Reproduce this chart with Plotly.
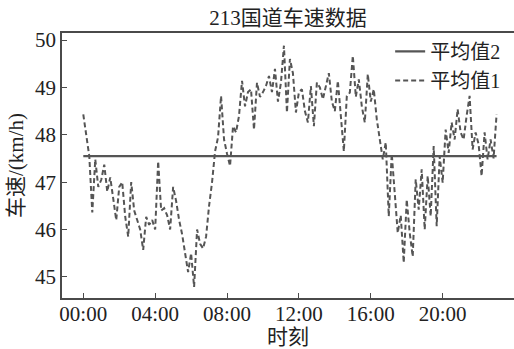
import plotly.graph_objects as go

# Time of day in hours, sampled every 10 minutes from 00:00 to 23:00
hours = [i / 6 for i in range(139)]

# 平均值1: average vehicle speed (km/h) at each sample time
speed_avg1 = [
    48.43, 48.00, 47.55, 46.36, 47.48, 46.90,   # 00:00
    47.05, 47.37, 46.80, 47.10, 46.60, 46.20,   # 01:00
    46.90, 47.00, 46.27, 45.85, 47.00, 46.40,   # 02:00
    46.20, 46.00, 45.57, 46.27, 46.10, 46.20,   # 03:00
    46.00, 47.44, 46.40, 46.45, 46.30, 46.00,   # 04:00
    46.90, 46.60, 46.20, 45.90, 45.50, 45.10,   # 05:00
    45.50, 44.79, 46.00, 45.70, 45.60, 45.85,   # 06:00
    46.50, 47.00, 47.65, 47.95, 48.82, 47.90,   # 07:00
    47.60, 47.34, 48.18, 48.05, 48.40, 49.14,   # 08:00
    48.60, 48.90, 48.96, 48.11, 49.10, 48.80,   # 09:00
    48.90, 49.03, 49.24, 48.90, 49.39, 48.70,   # 10:00
    49.10, 49.88, 48.47, 49.60, 49.30, 48.47,   # 11:00
    48.90, 48.96, 48.50, 48.26, 49.03, 48.18,   # 12:00
    49.10, 49.00, 48.75, 49.00, 49.30, 48.70,   # 13:00
    48.50, 49.14, 48.33, 47.65, 48.82, 48.89,   # 14:00
    49.67, 48.80, 49.17, 48.60, 48.26, 49.28,   # 15:00
    48.70, 48.96, 48.33, 47.90, 47.48, 47.84,   # 16:00
    46.28, 47.60, 46.70, 45.93, 46.30, 45.30,   # 17:00
    46.63, 45.93, 45.43, 47.06, 46.42, 47.27,   # 18:00
    46.00, 47.13, 46.28, 47.76, 46.07, 47.55,   # 19:00
    46.99, 48.11, 47.62, 48.26, 47.90, 48.54,   # 20:00
    48.05, 47.90, 48.40, 48.82, 47.69, 48.05,   # 21:00
    47.80, 47.13, 48.05, 47.48, 47.90, 47.50,   # 22:00
    48.43,                                      # 23:00
]

# 平均值2: overall mean speed across the day
speed_avg2 = 47.55
avg2_span = [0, 23]

tick_hours = [0, 4, 8, 12, 16, 20]
tick_labels = ["00:00", "04:00", "08:00", "12:00", "16:00", "20:00"]
speed_ticks = [45, 46, 47, 48, 49, 50]

FONT = "Liberation Serif, 'Noto Sans CJK SC', serif"
SIZE = 21
INK = "#222222"
AXIS = "#4a4a4a"

fig = go.Figure()

fig.add_trace(go.Scatter(
    x=hours, y=speed_avg1, mode="lines", name="平均值1",
    line=dict(color="#555555", width=2, dash="5px,3px"),
    legendrank=2,
))
fig.add_trace(go.Scatter(
    x=avg2_span, y=[speed_avg2] * len(avg2_span), mode="lines", name="平均值2",
    line=dict(color="#555555", width=2.2),
    legendrank=1,
))

fig.update_layout(
    width=514, height=349,
    margin=dict(l=62, r=0, t=33, b=51),
    paper_bgcolor="white", plot_bgcolor="white",
    font=dict(family=FONT, size=SIZE, color=INK),
    title=dict(text="213国道车速数据", x=288 / 514, xanchor="center",
               y=1 - 18 / 349, yanchor="middle", yref="container",
               font=dict(family=FONT, size=SIZE, color=INK)),
    showlegend=True,
    legend=dict(x=0.726, y=1.004, xanchor="left", yanchor="top",
                bgcolor="rgba(0,0,0,0)", borderwidth=0,
                font=dict(family=FONT, size=20, color=INK),
                itemwidth=30, tracegroupgap=0),
)

fig.update_xaxes(
    range=[-1.185, 23.97],
    tickmode="array", tickvals=tick_hours, ticktext=tick_labels,
    ticks="inside", ticklen=5, tickwidth=1.2, tickcolor=AXIS,
    ticklabelstandoff=-4,
    showline=True, linecolor=AXIS, linewidth=1.5, mirror=True,
    showgrid=False, zeroline=False,
    tickfont=dict(family=FONT, size=SIZE, color=INK),
    title=dict(text="时刻", standoff=4, font=dict(family=FONT, size=SIZE, color=INK)),
    automargin=False,
)
fig.update_yaxes(
    range=[44.555, 50.148],
    tickmode="array", tickvals=speed_ticks,
    ticks="inside", ticklen=5, tickwidth=1.2, tickcolor=AXIS,
    showline=True, linecolor=AXIS, linewidth=1.5, mirror=False,
    showgrid=False, zeroline=False,
    tickfont=dict(family=FONT, size=SIZE, color=INK),
    title=dict(text="车速/(km/h)", standoff=6, font=dict(family=FONT, size=SIZE, color=INK)),
    automargin=False,
)

fig.write_html("out.html")
